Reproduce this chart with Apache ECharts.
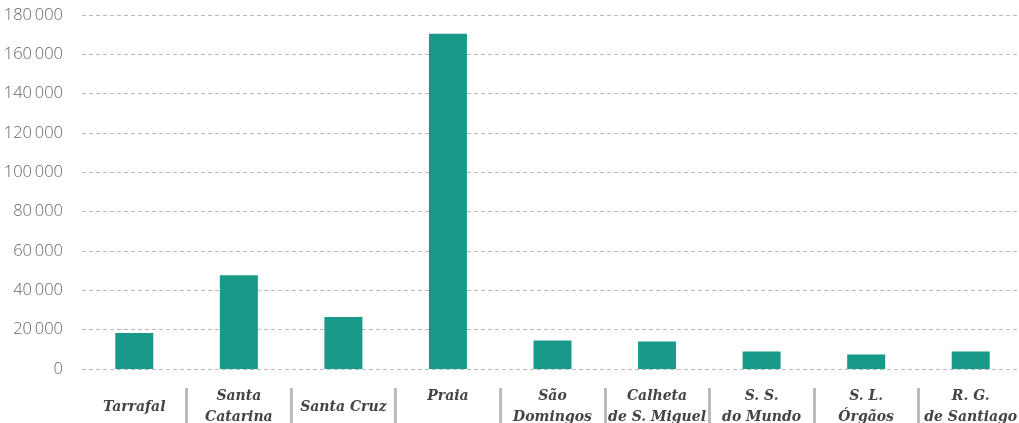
<!DOCTYPE html>
<html>
<head>
<meta charset="utf-8">
<script src="https://cdn.jsdelivr.net/npm/echarts@6/dist/echarts.min.js"></script>
<style>
	html, body { margin: 0; padding: 0; background: #fff; }
	#main { width: 1019px; height: 423px; }
</style>
</head>
<body>
<div id="main"></div>
<script>
const municipios = [
	"Tarrafal",
	"Santa\nCatarina",
	"Santa Cruz",
	"Praia\n ",
	"São\nDomingos",
	"Calheta\nde S. Miguel",
	"S. S.\ndo Mundo",
	"S. L.\nÓrgãos",
	"R. G.\nde Santiago",
];
const populacao = [18300, 47700, 26400, 170500, 14500, 14000, 8900, 7400, 8900];
const yTicks = { min: 0, max: 180000, interval: 20000 };

function formatThousands(v) {
	return String(v).replace(/\B(?=(\d{3})+(?!\d))/g, "\u2009");
}

let myChart = echarts.init(document.getElementById("main"));

let options = {
	animation: false,
	grid: { left: 82, right: -4, top: 15, bottom: 54, outerBoundsMode: "none" },
	xAxis: [
		{
			type: "category",
			data: municipios,
			axisLine: { show: false },
			axisTick: { show: false },
			axisLabel: {
				interval: 0,
				margin: 38,
				verticalAlign: "middle",
				fontFamily: "DejaVu Serif",
				fontStyle: "italic",
				fontWeight: "bold",
				fontSize: 14,
				lineHeight: 21,
				color: "#444",
			},
		},
		{
			type: "category",
			data: municipios,
			position: "bottom",
			offset: 19,
			axisLine: { show: false },
			axisLabel: { show: false },
			axisTick: {
				show: true,
				length: 36,
				interval: (i) => i > 0,
				lineStyle: { color: "#bbb", width: 3 },
			},
		},
	],
	yAxis: {
		type: "value",
		min: yTicks.min,
		max: yTicks.max,
		interval: yTicks.interval,
		axisLine: { show: false },
		axisTick: { show: false },
		axisLabel: {
			margin: 19,
			fontFamily: "Open Sans",
			fontWeight: 300,
			fontSize: 16.5,
			color: "#666",
			formatter: formatThousands,
		},
		splitLine: {
			lineStyle: { color: "#bbb", type: [4, 3], width: 1 },
		},
	},
	series: [
		{
			name: "População",
			type: "bar",
			barWidth: 38,
			itemStyle: { color: "#18998a" },
			data: populacao,
		},
	],
};

myChart.setOption(options);
</script>
</body>
</html>
